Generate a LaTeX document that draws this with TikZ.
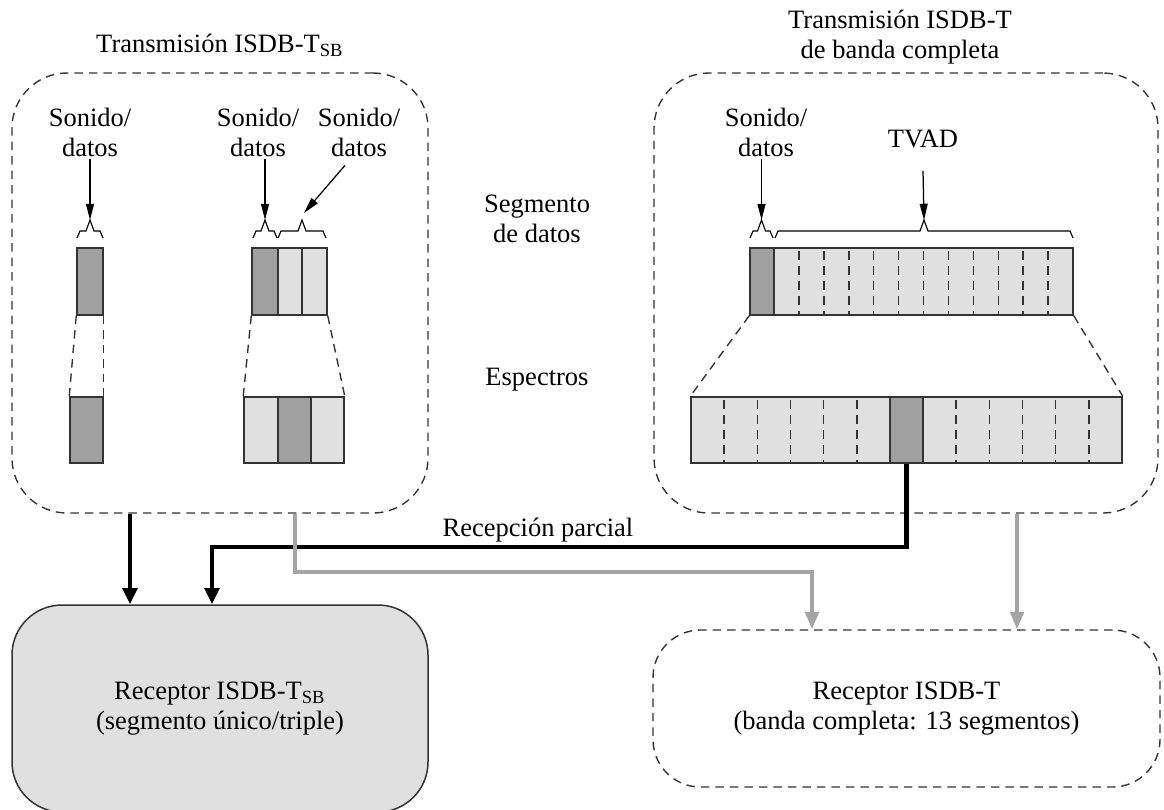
\documentclass[tikz,border=0pt]{standalone}
\usepackage{fontspec}
\setmainfont{Liberation Serif}
\usetikzlibrary{arrows.meta,positioning,fit,calc}
\definecolor{segdark}{HTML}{A0A0A0}
\definecolor{seglight}{HTML}{E0E0E0}
\definecolor{edge}{HTML}{333333}
\definecolor{feed}{HTML}{A4A4A4}

\begin{document}
\begin{tikzpicture}[x=0.4pt, y=-0.4pt, font=\fontsize{10.6}{12}\selectfont,
    boxdash/.style={draw=edge, line width=0.55pt, dash pattern=on 3.4pt off 2.4pt},
    seg/.style={draw=edge, line width=0.6pt, inner sep=0pt},
    segdiv/.style={draw=edge, line width=0.6pt, dash pattern=on 3.6pt off 2.4pt, dash phase=4.8pt},
    lbl/.style={align=center, inner sep=1pt},
    thinarr/.style={line width=0.5pt, -{Triangle[length=6.5pt,width=3.2pt]}},
    thickblk/.style={line width=1.8pt, -{Triangle[length=6.5pt,width=5.8pt]}},
    feedarr/.style={draw=feed, line width=1.4pt, -{Triangle[length=7pt,width=5.4pt]}}]
  \clip (0,0) rectangle (1164,809);

  % transmisiones
  \node[boxdash, rounded corners=22pt, inner sep=0pt, fit={(12,73) (428,513)}] (tsb) {};
  \node[boxdash, rounded corners=22pt, inner sep=0pt, fit={(654,73) (1158,513)}] (tfull) {};
  \node (ttsb) at (220,45) {Transmisión ISDB-T\textsubscript{SB}};
  \node[lbl] (ttfull) at (900,37) {Transmisión ISDB-T\\de banda completa};

  \node[lbl] (snd1) at (90,132) {Sonido/\\datos};
  \node[lbl] (snd2) at (258,132) {Sonido/\\datos};
  \node[lbl] (snd3) at (359,132) {Sonido/\\datos};
  \node[lbl] (snd4) at (766,132) {Sonido/\\datos};
  \node (tvad) at (923,139) {TVAD};
  \node[lbl] (segd) at (537,219) {Segmento\\de datos};
  \node (espc) at (537,380) {Espectros};

  % llaves
  \foreach \a/\b/\n in {77/103/bA, 253/277/bB, 278/326/bC, 750/773/bD, 775/1073/bE}{
    \pgfmathsetmacro{\xm}{(\a+\b)/2}
    \draw[line width=0.45pt] (\a,238) -- (\a+3,231) -- (\xm-4,231) -- (\xm,220) coordinate (\n)
      -- (\xm+4,231) -- (\b-3,231) -- (\b,238);}

  \draw[thinarr] (snd1.south) -- (bA);
  \draw[thinarr] (bB |- snd2.south) -- (bB);
  \draw[thinarr] ($(snd3.south)+(-14,6)$) -- ($(bC)+(2,-7)$);
  \draw[thinarr] (bD |- snd4.south) -- (bD);
  \draw[thinarr] (tvad.south) ++(0,14) -- (bE);

  % segmentos de datos
  \node[seg, fill=segdark, fit={(77,248) (103,315)}] (dA) {};
  \node[seg, fill=segdark, fit={(252,248) (278,315)}] (dB1) {};
  \node[seg, fill=seglight, fit={(278,248) (302,315)}] (dB2) {};
  \node[seg, fill=seglight, fit={(302,248) (327,315)}] (dB3) {};
  \node[seg, fill=segdark, fit={(750,248) (774,315)}] (dC1) {};
  \node[seg, fill=seglight, fit={(774,248) (1073,315)}] (dC2) {};
  \foreach \i in {1,...,11}
    \draw[segdiv] ({774+\i*24.92},248) -- ({774+\i*24.92},315);

  % espectros
  \node[seg, fill=segdark, fit={(70,397) (103,463)}] (sA) {};
  \node[seg, fill=seglight, fit={(244,397) (278,463)}] (sB1) {};
  \node[seg, fill=segdark, fit={(278,397) (311,463)}] (sB2) {};
  \node[seg, fill=seglight, fit={(311,397) (344,463)}] (sB3) {};
  \node[seg, fill=seglight, fit={(691,397) (890,463)}] (sC1) {};
  \node[seg, fill=segdark, fit={(890,397) (923,463)}] (sC2) {};
  \node[seg, fill=seglight, fit={(923,397) (1122,463)}] (sC3) {};
  \foreach \i in {1,...,5}{
    \draw[segdiv] ({691+\i*33.17},397) -- ({691+\i*33.17},463);
    \draw[segdiv] ({923+\i*33.17},397) -- ({923+\i*33.17},463);}

  \draw[boxdash] (dA.south west) -- (sA.north west);
  \draw[boxdash] (dA.south east) -- (sA.north east);
  \draw[boxdash] (dB1.south west) -- (sB1.north west);
  \draw[boxdash] (dB3.south east) -- (sB3.north east);
  \draw[boxdash] (dC1.south west) -- (sC1.north west);
  \draw[boxdash] (dC2.south east) -- (sC3.north east);

  % receptores
  \node[draw=edge, line width=0.6pt, fill=seglight, rounded corners=20pt, align=center,
        inner sep=0pt, fit={(12,605) (428,812)}] (rxsb) {};
  \node[lbl] at (rxsb.center) {Receptor ISDB-T\textsubscript{SB}\\(segmento único/triple)};
  \node[boxdash, rounded corners=19pt, inner sep=0pt, fit={(653,630) (1160,787)}] (rxfull) {};
  \node[lbl] at (rxfull.center) {Receptor ISDB-T\\(banda completa: 13 segmentos)};

  \draw[thickblk] (130,0 |- tsb.south) -- (130,0 |- rxsb.north);
  \draw[thickblk] (sC2.south) |- (212,547) -- (212,0 |- rxsb.north);
  \node (rpar) at (538,530) {Recepción parcial};
  \draw[feedarr] (295,0 |- tsb.south) |- (812,572) -- (812,0 |- rxfull.north);
  \draw[feedarr] (1017,0 |- tfull.south) -- (1017,0 |- rxfull.north);
\end{tikzpicture}
\end{document}
